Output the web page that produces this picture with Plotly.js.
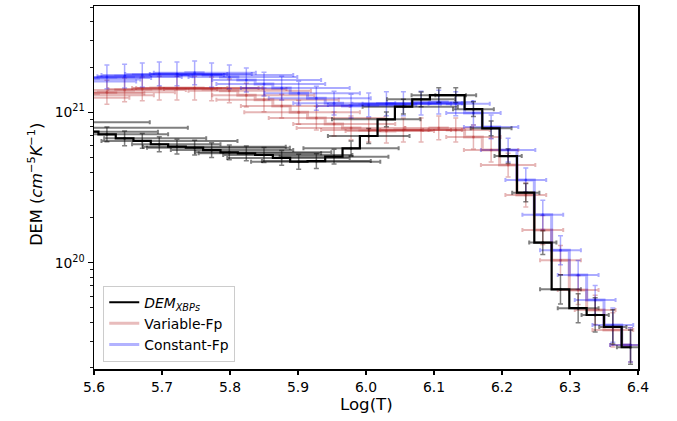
<!DOCTYPE html>
<html>
<head>
<meta charset="utf-8">
<script src="https://cdn.plot.ly/plotly-3.0.1.min.js"></script>
<style>html,body{margin:0;padding:0;background:#fff;}#chart{width:677px;height:421px;}</style>
</head>
<body>
<div id="chart"></div>
<script>
// log(T) grid (bin centres)
const logT = [5.542, 5.568, 5.594, 5.619, 5.645, 5.671, 5.696, 5.722, 5.748, 5.773, 5.799, 5.824, 5.850, 5.876, 5.901, 5.927, 5.953, 5.978, 6.004, 6.030, 6.055, 6.081, 6.107, 6.132, 6.158, 6.184, 6.209, 6.235, 6.260, 6.286, 6.312, 6.337, 6.363, 6.389];

// DEM of XBPs (cm^-5 K^-1)
const demXBP = [8.6e20, 7.9e20, 7.43e20, 7.14e20, 6.71e20, 6.45e20, 6.13e20, 5.91e20, 5.82e20, 5.61e20, 5.42e20, 5.34e20, 5.20e20, 4.97e20, 4.69e20, 4.74e20, 5.07e20, 5.76e20, 6.96e20, 8.98e20, 1.09e21, 1.22e21, 1.30e21, 1.30e21, 1.05e21, 7.83e20, 5.12e20, 2.92e20, 1.36e20, 6.65e19, 4.98e19, 4.49e19, 3.74e19, 2.74e19];
const demXBP_xlo = [0.07, 0.07, 0.07, 0.08, 0.03, 0.06, 0.04, 0.05, 0.07, 0.06, 0.05, 0.07, 0.06, 0.08, 0.07, 0.08, 0.08, 0.07, 0.06, 0.08, 0.06, 0.05, 0.04, 0.03, 0.03, 0.03, 0.02, 0.02, 0.02, 0.03, 0.03, 0.02, 0.02, 0.02];
const demXBP_xhi = [0.14, 0.17, 0.10, 0.09, 0.12, 0.14, 0.09, 0.16, 0.14, 0.12, 0.15, 0.11, 0.13, 0.10, 0.12, 0.08, 0.08, 0.07, 0.06, 0.05, 0.08, 0.05, 0.04, 0.03, 0.03, 0.03, 0.02, 0.02, 0.02, 0.03, 0.03, 0.02, 0.02, 0.02];
const demXBP_yrel = [0.12, 0.12, 0.12, 0.12, 0.12, 0.12, 0.12, 0.12, 0.12, 0.12, 0.12, 0.12, 0.12, 0.12, 0.12, 0.12, 0.12, 0.12, 0.12, 0.12, 0.12, 0.12, 0.12, 0.12, 0.12, 0.12, 0.12, 0.15, 0.2, 0.25, 0.25, 0.3, 0.3, 0.3];

// Variable-Fp model DEM
const demVar = [1.25e21, 1.30e21, 1.34e21, 1.36e21, 1.41e21, 1.43e21, 1.45e21, 1.45e21, 1.45e21, 1.43e21, 1.39e21, 1.30e21, 1.21e21, 1.10e21, 1.00e21, 9.16e20, 8.36e20, 7.87e20, 7.63e20, 7.51e20, 7.63e20, 7.63e20, 7.87e20, 7.63e20, 6.85e20, 5.61e20, 4.46e20, 2.82e20, 1.65e20, 1.04e20, 6.58e19, 4.85e19, 3.57e19, 2.84e19];
const demVar_xlo = [0.05, 0.05, 0.05, 0.04, 0.06, 0.05, 0.04, 0.06, 0.05, 0.07, 0.06, 0.05, 0.07, 0.06, 0.08, 0.07, 0.06, 0.08, 0.07, 0.06, 0.05, 0.06, 0.05, 0.04, 0.04, 0.04, 0.04, 0.03, 0.03, 0.03, 0.03, 0.03, 0.03, 0.03];
const demVar_xhi = [0.11, 0.12, 0.08, 0.10, 0.09, 0.11, 0.10, 0.12, 0.10, 0.11, 0.12, 0.10, 0.11, 0.10, 0.09, 0.10, 0.09, 0.08, 0.08, 0.07, 0.07, 0.06, 0.05, 0.05, 0.04, 0.04, 0.04, 0.03, 0.03, 0.03, 0.03, 0.03, 0.03, 0.03];
const demVar_yrel = [0.2, 0.2, 0.2, 0.2, 0.2, 0.2, 0.2, 0.2, 0.2, 0.2, 0.2, 0.2, 0.2, 0.2, 0.2, 0.2, 0.2, 0.2, 0.2, 0.2, 0.2, 0.2, 0.2, 0.2, 0.2, 0.2, 0.2, 0.2, 0.25, 0.25, 0.25, 0.25, 0.3, 0.3];

// Constant-Fp model DEM
const demConst = [1.60e21, 1.65e21, 1.69e21, 1.72e21, 1.74e21, 1.77e21, 1.80e21, 1.80e21, 1.83e21, 1.77e21, 1.72e21, 1.64e21, 1.54e21, 1.45e21, 1.34e21, 1.24e21, 1.15e21, 1.10e21, 1.12e21, 1.14e21, 1.14e21, 1.15e21, 1.17e21, 1.14e21, 9.90e20, 7.99e20, 5.61e20, 3.55e20, 2.08e20, 1.21e20, 8.28e19, 5.65e19, 3.85e19, 2.84e19];
const demConst_xlo = [0.05, 0.05, 0.05, 0.05, 0.04, 0.06, 0.05, 0.04, 0.06, 0.05, 0.06, 0.05, 0.07, 0.06, 0.05, 0.07, 0.06, 0.05, 0.06, 0.05, 0.06, 0.05, 0.04, 0.04, 0.04, 0.04, 0.04, 0.03, 0.03, 0.03, 0.03, 0.03, 0.03, 0.03];
const demConst_xhi = [0.12, 0.10, 0.09, 0.11, 0.10, 0.12, 0.10, 0.11, 0.09, 0.12, 0.10, 0.11, 0.09, 0.10, 0.09, 0.08, 0.09, 0.08, 0.07, 0.08, 0.07, 0.06, 0.05, 0.05, 0.04, 0.04, 0.04, 0.03, 0.03, 0.03, 0.03, 0.03, 0.03, 0.03];
const demConst_yrel = [0.2, 0.2, 0.2, 0.2, 0.2, 0.2, 0.2, 0.2, 0.2, 0.2, 0.2, 0.2, 0.2, 0.2, 0.2, 0.2, 0.2, 0.2, 0.2, 0.2, 0.2, 0.2, 0.2, 0.2, 0.2, 0.2, 0.2, 0.2, 0.25, 0.25, 0.25, 0.25, 0.3, 0.3];

const xTicks = [5.6, 5.7, 5.8, 5.9, 6.0, 6.1, 6.2, 6.3, 6.4];
const xTickText = ['5.6', '5.7', '5.8', '5.9', '6.0', '6.1', '6.2', '6.3', '6.4'];
const yTicks = [1e20, 1e21];
const yTickText = ['10<sup>20</sup>', '10<sup>21</sup>'];
const yMinor = [2e19, 3e19, 4e19, 5e19, 6e19, 7e19, 8e19, 9e19, 2e20, 3e20, 4e20, 5e20, 6e20, 7e20, 8e20, 9e20, 2e21, 3e21, 4e21, 5e21];
const xTitle = 'Log(T)';
const yTitle = 'DEM (<i>cm</i><sup>\u22125</sup><i>K</i><sup>\u22121</sup>)';

function errTrace(y, xlo, xhi, yrel, color) {
  return {
    x: logT, y: y, type: 'scatter', mode: 'markers', showlegend: false, hoverinfo: 'skip',
    marker: {size: 3, color: color},
    error_x: {type: 'data', symmetric: false, array: xhi, arrayminus: xlo, color: color, thickness: 2, width: 2},
    error_y: {type: 'data', symmetric: false, array: y.map((v, i) => v * yrel[i]), arrayminus: y.map((v, i) => v * yrel[i] / (1 + yrel[i])), color: color, thickness: 1.5, width: 2.5}
  };
}
function lineTrace(y, name, color, w, rank) {
  return {x: logT, y: y, type: 'scatter', mode: 'lines', name: name, legendrank: rank,
    line: {shape: 'hvh', color: color, width: w}, hoverinfo: 'skip'};
}

const cRed = 'rgba(178,34,34,0.33)';
const cBlue = 'rgba(0,0,255,0.33)';
const cBlack = 'rgba(0,0,0,0.5)';

const data = [
  errTrace(demVar, demVar_xlo, demVar_xhi, demVar_yrel, cRed),
  errTrace(demConst, demConst_xlo, demConst_xhi, demConst_yrel, cBlue),
  errTrace(demXBP, demXBP_xlo, demXBP_xhi, demXBP_yrel, cBlack),
  lineTrace(demVar, 'Variable-Fp', 'rgba(178,34,34,0.3)', 3, 2),
  lineTrace(demConst, 'Constant-Fp', 'rgba(0,0,255,0.3)', 3, 3),
  lineTrace(demXBP, '<i>DEM<sub>XBPs</sub></i>', '#000000', 2.2, 1)
];

const layout = {
  width: 677, height: 421,
  margin: {l: 94, r: 39, t: 6, b: 52},
  paper_bgcolor: '#ffffff', plot_bgcolor: '#ffffff',
  font: {family: 'DejaVu Sans', size: 13.9, color: '#000'},
  showlegend: true,
  legend: {x: 0.017, y: 0.02, xanchor: 'left', yanchor: 'bottom', bgcolor: 'rgba(255,255,255,0.8)', bordercolor: '#cccccc', borderwidth: 1, font: {size: 13.9}, tracegroupgap: 0},
  xaxis: {
    range: [5.6, 6.4], tickmode: 'array', tickvals: xTicks, ticktext: xTickText,
    ticks: 'outside', ticklen: 4.5, tickwidth: 1.1, tickcolor: '#000',
    showline: true, linecolor: '#000', linewidth: 1.5, mirror: true,
    showgrid: false, zeroline: false
  },
  yaxis: {
    type: 'log', range: [19.293, 21.707], tickmode: 'array', tickvals: yTicks, ticktext: yTickText,
    ticks: 'outside', ticklen: 5, tickwidth: 1.1, tickcolor: '#000',
    minor: {tickmode: 'array', tickvals: yMinor, ticks: 'outside', ticklen: 3, tickwidth: 0.9, tickcolor: '#000', showgrid: false},
    showline: true, linecolor: '#000', linewidth: 1.5, mirror: true,
    showgrid: false, zeroline: false
  },
  annotations: [
    {text: xTitle, xref: 'paper', yref: 'paper', x: 0.5, y: -0.068, xanchor: 'center', yanchor: 'top', borderpad: 0, showarrow: false, font: {size: 16.6}},
    {text: yTitle, xref: 'paper', yref: 'paper', x: -0.1085, y: 0.51, xanchor: 'center', yanchor: 'middle', borderpad: 0, textangle: -90, showarrow: false, font: {size: 16.2}}
  ]
};

Plotly.newPlot('chart', data, layout, {displayModeBar: false, staticPlot: true});
</script>
</body>
</html>
